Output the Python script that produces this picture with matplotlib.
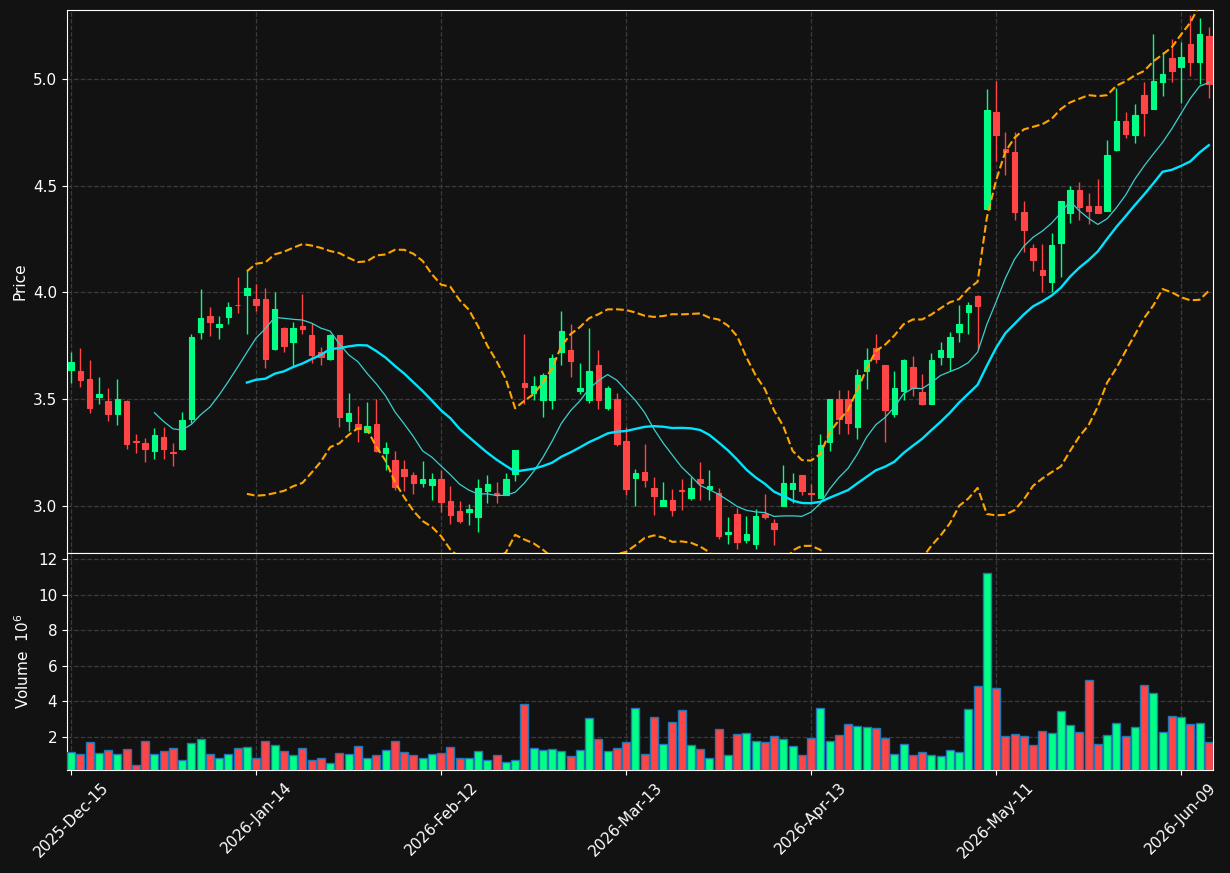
import numpy as np
import pandas as pd
import matplotlib
matplotlib.use("Agg")
import matplotlib.pyplot as plt

# daily OHLC and volume in millions
opens = [3.637, 3.632, 3.595, 3.510, 3.491, 3.429, 3.491, 3.302, 3.293, 3.256,
         3.321, 3.251, 3.265, 3.406, 3.814, 3.890, 3.840, 3.886, 3.943, 3.990,
         3.967, 3.969, 3.736, 3.833, 3.768, 3.844, 3.800, 3.720, 3.687, 3.800,
         3.397, 3.383, 3.348, 3.383, 3.247, 3.215, 3.171, 3.143, 3.108, 3.099,
         3.125, 3.021, 2.975, 2.972, 2.949, 3.069, 3.062, 3.051, 3.150, 3.577,
         3.531, 3.498, 3.498, 3.720, 3.731, 3.540, 3.498, 3.660, 3.459, 3.501,
         3.302, 3.131, 3.161, 3.083, 3.000, 3.030, 3.076, 3.039, 3.125, 3.078,
         3.060, 2.869, 2.961, 2.839, 2.822, 2.963, 2.922, 3.000, 3.078, 3.143,
         3.062, 3.039, 3.298, 3.501, 3.501, 3.371, 3.630, 3.740, 3.660, 3.429,
         3.537, 3.651, 3.533, 3.478, 3.697, 3.697, 3.814, 3.909, 3.985, 4.391,
         4.843, 4.670, 4.659, 4.375, 4.209, 4.103, 4.047, 4.230, 4.373, 4.481,
         4.403, 4.403, 4.382, 4.666, 4.802, 4.735, 4.924, 4.859, 4.986, 5.097,
         5.055, 5.164, 5.081, 5.201]
highs = [3.720, 3.738, 3.685, 3.602, 3.554, 3.593, 3.495, 3.339, 3.318, 3.367,
         3.371, 3.293, 3.441, 3.807, 4.015, 3.930, 3.888, 3.957, 4.070, 4.103,
         4.038, 4.020, 4.001, 3.837, 3.860, 3.994, 3.856, 3.745, 3.805, 3.802,
         3.531, 3.466, 3.489, 3.503, 3.300, 3.256, 3.215, 3.157, 3.212, 3.152,
         3.166, 3.092, 3.021, 3.009, 3.127, 3.145, 3.113, 3.152, 3.263, 3.807,
         3.609, 3.621, 3.713, 3.911, 3.851, 3.671, 3.835, 3.729, 3.561, 3.531,
         3.371, 3.171, 3.291, 3.136, 3.113, 3.081, 3.125, 3.134, 3.205, 3.168,
         3.083, 2.949, 2.988, 2.954, 2.984, 3.055, 2.938, 3.191, 3.155, 3.145,
         3.101, 3.339, 3.503, 3.542, 3.542, 3.641, 3.738, 3.803, 3.662, 3.630,
         3.690, 3.704, 3.616, 3.715, 3.766, 3.814, 3.941, 3.953, 3.987, 4.952,
         4.991, 4.753, 4.751, 4.428, 4.225, 4.225, 4.278, 4.430, 4.499, 4.518,
         4.465, 4.532, 4.714, 4.956, 4.845, 4.880, 4.986, 5.208, 5.127, 5.189,
         5.173, 5.300, 5.284, 5.245]
lows = [3.574, 3.558, 3.436, 3.475, 3.399, 3.381, 3.268, 3.249, 3.208, 3.221,
        3.221, 3.187, 3.263, 3.388, 3.780, 3.798, 3.784, 3.851, 3.902, 3.807,
        3.911, 3.646, 3.729, 3.720, 3.655, 3.807, 3.667, 3.660, 3.685, 3.369,
        3.351, 3.300, 3.346, 3.254, 3.166, 3.076, 3.072, 3.055, 3.090, 3.028,
        2.970, 2.915, 2.919, 2.912, 2.878, 3.012, 3.014, 3.049, 3.115, 3.478,
        3.494, 3.418, 3.452, 3.660, 3.602, 3.524, 3.484, 3.452, 3.450, 3.281,
        3.051, 3.000, 3.090, 2.958, 2.998, 2.952, 2.982, 3.030, 3.030, 3.030,
        2.845, 2.822, 2.797, 2.827, 2.797, 2.940, 2.818, 2.998, 3.014, 3.051,
        3.018, 3.037, 3.258, 3.339, 3.339, 3.314, 3.549, 3.671, 3.300, 3.415,
        3.498, 3.517, 3.471, 3.476, 3.660, 3.634, 3.770, 3.803, 3.736, 4.389,
        4.615, 4.552, 4.340, 4.190, 4.100, 4.001, 4.001, 4.070, 4.324, 4.338,
        4.320, 4.371, 4.380, 4.664, 4.721, 4.698, 4.732, 4.857, 4.922, 4.986,
        4.885, 5.014, 4.977, 4.912]
closes = [3.674, 3.591, 3.459, 3.524, 3.429, 3.501, 3.288, 3.298, 3.268, 3.332,
          3.265, 3.247, 3.401, 3.791, 3.881, 3.860, 3.854, 3.932, 3.939, 4.022,
          3.939, 3.687, 3.923, 3.750, 3.833, 3.828, 3.706, 3.699, 3.800, 3.418,
          3.434, 3.362, 3.374, 3.258, 3.270, 3.088, 3.141, 3.106, 3.125, 3.125,
          3.018, 2.956, 2.928, 2.984, 3.083, 3.101, 3.058, 3.125, 3.261, 3.556,
          3.561, 3.614, 3.692, 3.817, 3.681, 3.551, 3.632, 3.498, 3.551, 3.288,
          3.081, 3.152, 3.120, 3.048, 3.028, 2.982, 3.072, 3.083, 3.106, 3.092,
          2.857, 2.878, 2.829, 2.869, 2.952, 2.949, 2.892, 3.108, 3.108, 3.069,
          3.058, 3.284, 3.501, 3.406, 3.390, 3.614, 3.683, 3.690, 3.448, 3.551,
          3.683, 3.551, 3.478, 3.683, 3.731, 3.791, 3.854, 3.941, 3.937, 4.852,
          4.737, 4.656, 4.375, 4.290, 4.151, 4.080, 4.223, 4.428, 4.481, 4.400,
          4.382, 4.373, 4.642, 4.802, 4.744, 4.829, 4.841, 4.989, 5.023, 5.037,
          5.102, 5.078, 5.210, 4.975]
volumes = [1.17, 1.06, 1.72, 1.11, 1.28, 1.06, 1.33, 0.44, 1.78, 1.06,
           1.22, 1.39, 0.72, 1.67, 1.89, 1.06, 0.83, 1.06, 1.39, 1.44,
           0.83, 1.78, 1.56, 1.22, 1.00, 1.39, 0.72, 0.78, 0.50, 1.11,
           1.06, 1.50, 0.78, 1.00, 1.28, 1.78, 1.17, 1.00, 0.78, 1.06,
           1.11, 1.44, 0.83, 0.83, 1.22, 0.72, 1.00, 0.61, 0.72, 3.83,
           1.39, 1.28, 1.33, 1.22, 0.94, 1.28, 3.06, 1.89, 1.22, 1.39,
           1.72, 3.61, 1.06, 3.11, 1.61, 2.83, 3.50, 1.56, 1.33, 0.83,
           2.44, 1.00, 2.17, 2.22, 1.78, 1.72, 2.06, 1.89, 1.50, 1.00,
           1.94, 3.61, 1.78, 2.11, 2.72, 2.61, 2.56, 2.50, 1.94, 1.06,
           1.61, 1.00, 1.17, 1.00, 0.94, 1.28, 1.17, 3.56, 4.87, 11.22,
           4.76, 2.06, 2.17, 2.06, 1.56, 2.33, 2.22, 3.44, 2.67, 2.28,
           5.17, 1.61, 2.11, 2.78, 2.06, 2.56, 4.94, 4.44, 2.28, 3.17,
           3.11, 2.72, 2.78, 1.72]

holidays = ["2025-12-25", "2026-01-01", "2026-01-19", "2026-02-16",
            "2026-04-03", "2026-05-25"]
dates = pd.bdate_range("2025-12-15", periods=len(closes), freq="C", holidays=holidays)

df = pd.DataFrame({"Open": opens, "High": highs, "Low": lows,
                   "Close": closes, "Volume": volumes}, index=dates)
df["ma10"] = df["Close"].rolling(10).mean()
df["ma20"] = df["Close"].rolling(20).mean()
std20 = df["Close"].rolling(20).std(ddof=0)
df["bb_up"] = df["ma20"] + 2 * std20
df["bb_lo"] = df["ma20"] - 2 * std20

BG = "#121212"
UP = "#00ff84"
DOWN = "#ff4545"
GRID = "#3a3a3a"

plt.rcParams["font.family"] = ["DejaVu Sans"]

fig = plt.figure(figsize=(12.3, 8.73), dpi=100, facecolor=BG)
W, H = 1230, 873
ax = fig.add_axes([67 / W, 1 - 553 / H, 1146 / W, 543 / H])
axv = fig.add_axes([67 / W, 1 - 770 / H, 1146 / W, 217 / H], sharex=ax)

x = np.arange(len(df))
up = df["Close"] >= df["Open"]
cols = np.where(up, UP, DOWN)

# candles
ax.vlines(x, df["Low"], df["High"], colors=cols, linewidth=1, zorder=3)
body_lo = np.minimum(df["Open"], df["Close"])
body_h = (df["Close"] - df["Open"]).abs()
ax.bar(x, body_h, bottom=body_lo, width=0.6, color=cols, edgecolor=cols,
       linewidth=0.8, zorder=4)

# indicators
ax.plot(x, df["ma10"], color="#3ccfcf", linewidth=0.9, zorder=5)
ax.plot(x, df["ma20"], color="#00e5ff", linewidth=1.7, zorder=5)
ax.plot(x, df["bb_up"], color="orange", linewidth=1.5, linestyle="--", zorder=5)
ax.plot(x, df["bb_lo"], color="orange", linewidth=1.5, linestyle="--", zorder=5)

rng = df["High"].max() - df["Low"].min()
ax.set_ylim(df["Low"].min() - 0.007 * rng, df["High"].max() + 0.009 * rng)
ax.set_xlim(-0.45, len(df) - 0.55)
ax.set_yticks([3.0, 3.5, 4.0, 4.5, 5.0])
ax.yaxis.set_major_formatter(matplotlib.ticker.FormatStrFormatter("%.1f"))
ax.set_ylabel("Price", color="white", fontsize=11)

# volume
axv.bar(x, df["Volume"], width=0.85, color=cols, edgecolor="#1f77b4",
        linewidth=1, zorder=3)
axv.set_ylim(0.3 * df["Volume"].min(), 1.1 * df["Volume"].max())
axv.set_yticks([2, 4, 6, 8, 10, 12])
axv.set_ylabel("Volume  $10^6$", color="white", fontsize=11)

ticks = x[::20]
axv.set_xticks(ticks)
axv.set_xticklabels([d.strftime("%Y-%b-%d") for d in df.index[ticks]],
                    rotation=45, ha="center")

for a in (ax, axv):
    a.set_facecolor(BG)
    a.grid(True, color=GRID, linestyle="--", linewidth=0.9)
    a.set_axisbelow(True)
    for s in a.spines.values():
        s.set_color("white")
    a.tick_params(colors="white", labelsize=11)
ax.tick_params(axis="x", bottom=False, labelbottom=False)

fig.savefig("out.png", dpi=100, facecolor=BG)
